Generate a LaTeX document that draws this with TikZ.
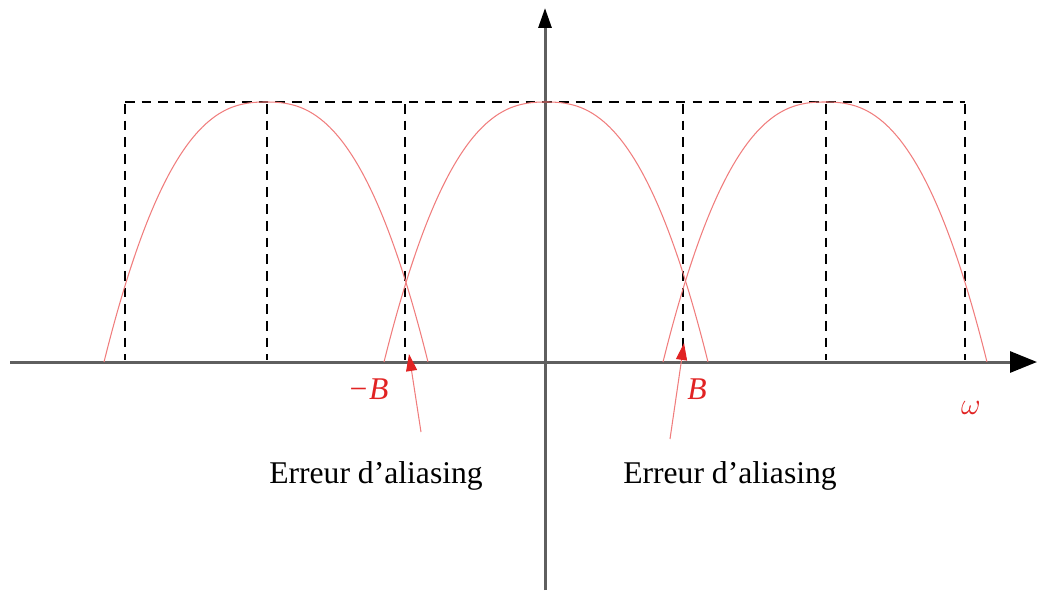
\documentclass[tikz,border=0pt]{standalone}
\usepackage{fontspec}
\setmainfont{Liberation Serif}
\usepackage{tikz}
\usetikzlibrary{arrows.meta,positioning,calc}
\definecolor{AxisGray}{RGB}{95,95,95}
\definecolor{SpecRed}{RGB}{240,125,125}
\definecolor{LabelRed}{RGB}{225,35,35}
\tikzset{
  axisline/.style={line width=1.7pt, AxisGray},
  guide/.style={black, line width=1.1pt, dash pattern=on 5.5pt off 4pt},
  spectrum/.style={SpecRed, line width=0.6pt},
  pointer/.style={SpecRed, line width=0.6pt, -{Triangle[length=3.4mm,width=2.2mm,color=LabelRed]}},
  redlabel/.style={LabelRed, font=\fontsize{18}{20}\selectfont\itshape},
  errlabel/.style={font=\fontsize{18}{21}\selectfont}
}

\begin{document}
\begin{tikzpicture}[x=0.02cm, y=-0.02cm]
      \useasboundingbox (0,0) rectangle (1041,592);
      % axes
      \draw[axisline, -{Triangle[length=5.4mm,width=4.2mm,color=black]}] (10,362)--(1037,362);
      \draw[axisline, -{Triangle[length=4mm,width=2.6mm,color=black]}] (545,590)--(545,8);
      % gabarit en pointilles
      \draw[guide] (125,102)--(965,102);
      \foreach \xg in {125,267,405,683,826,965}
        \draw[guide] (\xg,104)--(\xg,360);
      % spectres repliees
      \foreach \cc in {266,546,825}
        \draw[spectrum] plot[domain=-1:1, samples=80, smooth] ({\cc+162*\x},{362-260*(1-abs(\x)^2.5)});
      % etiquettes
      \node[redlabel] (mB) at (368,389) {−B};
      \node[redlabel] (pB) at (697,389) {B};
      \node[LabelRed, font=\fontsize{18}{20}\selectfont] (om) at (971,408) {$\omega$};
      \node[errlabel] (errL) at (376,476) {Erreur d’aliasing};
      \node[errlabel] (errR) at (730,476) {Erreur d’aliasing};
      \coordinate (startL) at (421,432);
      \coordinate (tipL) at (409,354);
      \coordinate (startR) at (670,439);
      \coordinate (tipR) at (684,343);
      \draw[pointer] (startL)--(tipL);
      \draw[pointer] (startR)--(tipR);
    \end{tikzpicture}
\end{document}
